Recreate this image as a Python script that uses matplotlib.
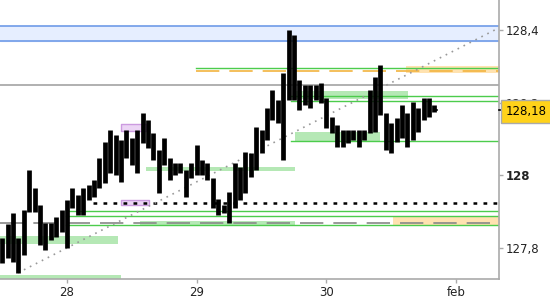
import numpy as np
import matplotlib
matplotlib.use("Agg")
import matplotlib.pyplot as plt

# hourly bars, first one at 27 jan 12:00 (x in days relative to 28 jan)
start = -0.5
highs = [127.827, 127.866, 127.896, 127.827, 127.904, 128.014, 127.965, 127.918, 127.868, 127.868,
         127.885, 127.904, 127.932, 127.965, 127.945, 127.965, 127.973, 127.987, 128.047, 128.091,
         128.125, 128.111, 128.097, 128.125, 128.102, 128.125, 128.171, 128.152, 128.116, 128.069,
         128.102, 128.047, 128.034, 128.034, 128.014, 128.034, 128.083, 128.042, 128.034, 127.992,
         127.934, 127.918, 127.954, 128.034, 128.023, 128.064, 128.061, 128.133, 128.125, 128.185,
         128.235, 128.207, 128.282, 128.400, 128.386, 128.262, 128.248, 128.248, 128.248, 128.254,
         128.213, 128.160, 128.138, 128.125, 128.125, 128.125, 128.125, 128.125, 128.235, 128.271,
         128.304, 128.171, 128.144, 128.158, 128.193, 128.171, 128.202, 128.185, 128.213, 128.213,
         128.193]
lows = [127.758, 127.772, 127.761, 127.731, 127.780, 127.899, 127.899, 127.808, 127.794, 127.821,
        127.830, 127.844, 127.799, 127.910, 127.890, 127.890, 127.932, 127.940, 127.965, 127.979,
        128.006, 128.001, 127.981, 128.047, 128.028, 128.006, 128.089, 128.075, 128.042, 127.951,
        128.028, 127.987, 128.001, 128.006, 127.940, 127.992, 128.001, 128.001, 127.987, 127.910,
        127.890, 127.896, 127.868, 127.910, 127.932, 127.951, 127.995, 128.014, 128.061, 128.097,
        128.152, 128.144, 128.042, 128.207, 128.207, 128.180, 128.193, 128.185, 128.207, 128.199,
        128.130, 128.116, 128.078, 128.078, 128.089, 128.097, 128.078, 128.097, 128.116, 128.119,
        128.166, 128.069, 128.061, 128.091, 128.102, 128.078, 128.097, 128.119, 128.152, 128.160,
        128.174]
last_close = 128.18

# levels: (price, x_from)
green_lines = [(128.295, 0.995), (128.218, 1.727), (128.204, 1.727), (128.094, 1.727),
               (127.901, -0.008), (127.888, -0.008), (127.863, -0.008)]
gray_line = 128.248
gray_dashed = 127.868
orange_dashed = (128.287, 0.995)
dotted_black = (127.923, 0.2)
blue_zone = (128.370, 128.411)
# zones: (x0, x1, y0, y1)
green_zones = [(1.758, 2.629, 128.210, 128.232), (1.758, 2.413, 128.094, 128.119),
               (0.609, 1.758, 128.012, 128.023), (0.563, 1.758, 127.862, 127.875),
               (-0.52, 0.393, 127.811, 127.833), (-0.52, 0.416, 127.714, 127.725)]
orange_zones = [(2.614, 3.4, 128.282, 128.301), (2.514, 3.4, 127.862, 127.886)]
purple_zones = [(0.416, 0.609, 128.122, 128.141), (0.416, 0.632, 127.918, 127.932)]
trend = ([-0.378, 3.315], [127.731, 128.403])

xticks = [0, 1, 2, 3]
xlabels = ["28", "29", "30", "feb"]
yticks = [127.8, 128.0, 128.2, 128.4]
ylabels = ["127,8", "128", "128,2", "128,4"]

fig = plt.figure(figsize=(5.5, 3.0), dpi=100)
ax = fig.add_axes([0, 21 / 300, 499 / 550, 279 / 300])
xmin, xmax = -0.5166, 3.331
ax.set_xlim(xmin, xmax)
ax.set_ylim(127.714, 128.4826)

ax.axhspan(*blue_zone, color="#e6eeff", zorder=1)
ax.axhline(blue_zone[0], color="#6f9be8", lw=1.2, zorder=2)
ax.axhline(blue_zone[1], color="#6f9be8", lw=1.2, zorder=2)
ax.axhline(gray_line, color="#aaaaaa", lw=1.3, zorder=2)

for x0, x1, y0, y1 in green_zones:
    ax.fill_between([x0, x1], y0, y1, color="#b5e8b5", lw=0, zorder=1)
for x0, x1, y0, y1 in orange_zones:
    ax.fill_between([x0, x1], y0, y1, color="#ffe2b0", lw=0, zorder=1)
for x0, x1, y0, y1 in purple_zones:
    ax.fill_between([x0, x1], y0, y1, color="#ecd5f5", edgecolor="#cc9be0", lw=1.0, zorder=1)

for y, x0 in green_lines:
    ax.plot([x0, xmax], [y, y], color="#4ccc4c", lw=1.0, zorder=2)
ax.plot([orange_dashed[1], xmax], [orange_dashed[0]] * 2, color="#f2b440", lw=1.2,
        dashes=(14, 6), zorder=2)
ax.plot([xmin, xmax], [gray_dashed] * 2, color="#888888", lw=1.2, dashes=(14, 6), zorder=2)
ax.plot([dotted_black[1], xmax], [dotted_black[0]] * 2, color="black", lw=1.8,
        dashes=(1.5, 2.5), zorder=2)
ax.plot(trend[0], trend[1], color="#999999", lw=1.2, dashes=(1, 3), zorder=2)

t = start + np.arange(len(highs)) / 24
ax.vlines(t, lows, highs, color="black", lw=3.4, zorder=3)
ax.plot([t[-1], t[-1] + 0.02], [last_close, last_close], color="black", lw=1.2, zorder=3)

for s in ["top", "left"]:
    ax.spines[s].set_visible(False)
for s in ["right", "bottom"]:
    ax.spines[s].set_color("#aaaaaa")
    ax.spines[s].set_linewidth(1.2)

ax.yaxis.tick_right()
ax.set_xticks(xticks)
ax.set_xticklabels(xlabels)
ax.set_yticks(yticks)
ax.set_yticklabels(ylabels)
ax.tick_params(colors="#aaaaaa", labelcolor="#222222", labelsize=8.5, length=3, width=1, pad=2)
ax.get_yticklabels()[1].set_fontweight("bold")

# current price badge
ax.plot([xmax, xmax + 0.04], [last_close, last_close], color="black", lw=1.2,
        clip_on=False, zorder=9)
ax.text(xmax + 0.05, last_close - 0.004, "128,18", fontsize=8.5, color="black",
        va="center", ha="left", zorder=10,
        bbox=dict(boxstyle="square,pad=0.4", fc="#ffd21a", ec="#aaaaaa", lw=1))

fig.savefig("out.png", dpi=100)
